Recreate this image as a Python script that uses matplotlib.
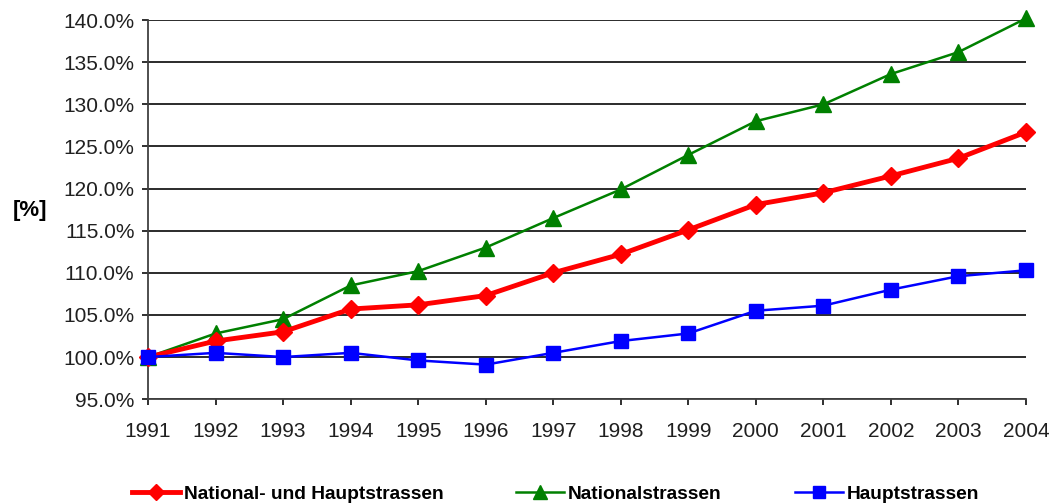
import matplotlib
matplotlib.use("Agg")
import matplotlib.pyplot as plt
from matplotlib.ticker import FuncFormatter

years = list(range(1991, 2005))
national_haupt = [100.0, 101.9, 103.0, 105.7, 106.2, 107.3, 110.0, 112.2, 115.1, 118.1, 119.5, 121.5, 123.6, 126.7]
national = [100.0, 102.8, 104.5, 108.5, 110.2, 113.0, 116.5, 119.9, 124.0, 128.0, 130.0, 133.6, 136.2, 140.2]
haupt = [100.0, 100.5, 100.0, 100.5, 99.6, 99.1, 100.5, 101.9, 102.8, 105.5, 106.1, 108.0, 109.6, 110.3]
labels = ["National- und Hauptstrassen", "Nationalstrassen", "Hauptstrassen"]
yticks = [95, 100, 105, 110, 115, 120, 125, 130, 135, 140]

plt.rcParams['font.family'] = ['Liberation Sans', 'DejaVu Sans']

fig = plt.figure(figsize=(10.5, 5.04), dpi=100)
ax = fig.add_axes([0.141, 0.208, 0.836, 0.752])

l1, = ax.plot(years, national_haupt, color='#ff0000', lw=3.5, marker='D', ms=9, clip_on=False, zorder=4)
l2, = ax.plot(years, national, color='#008000', lw=1.8, marker='^', ms=12, clip_on=False, zorder=3)
l3, = ax.plot(years, haupt, color='#0000ff', lw=1.8, marker='s', ms=10.5, clip_on=False, zorder=5)

ax.set_xlim(1991, 2004)
ax.set_ylim(95, 140)
ax.set_yticks(yticks)
ax.set_xticks(years)
ax.yaxis.set_major_formatter(FuncFormatter(lambda v, p: f"{v:.1f}%"))
ax.grid(axis='y', color='#1a1a1a', lw=1.3)
ax.set_axisbelow(True)
for s in ['top', 'right']:
    ax.spines[s].set_visible(False)
for s in ['left', 'bottom']:
    ax.spines[s].set_color('#404040')
    ax.spines[s].set_linewidth(1.3)
ax.tick_params(axis='both', labelsize=15, colors='#202020', length=4.3, width=1.3)
ax.tick_params(axis='x', pad=12)
ax.tick_params(axis='y', pad=5.5)

fig.text(0.0285, 0.583, "[%]", fontsize=16, fontweight='bold', ha='center', va='center')

fig.legend([l1, l2, l3], labels, loc='center', bbox_to_anchor=(0.529, 0.02), ncol=3,
           frameon=False, prop={'weight': 'bold', 'size': 13.8}, handlelength=2.5,
           handletextpad=0.2, columnspacing=3.8, markerscale=0.85)

fig.savefig("out.png", dpi=100)
